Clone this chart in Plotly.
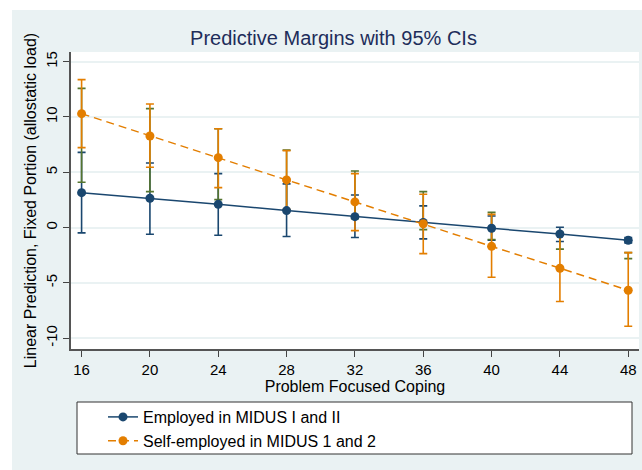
import plotly.graph_objects as go

# ---- data ----
coping = [16, 20, 24, 28, 32, 36, 40, 44, 48]
x_ticks = [16, 20, 24, 28, 32, 36, 40, 44, 48]
y_ticks = [-10, -5, 0, 5, 10, 15]

emp_margin = [3.16, 2.65, 2.10, 1.54, 0.99, 0.47, -0.06, -0.58, -1.14]
emp_lo = [-0.48, -0.60, -0.69, -0.81, -0.90, -1.02, -1.14, -1.26, -1.38]
emp_hi = [6.80, 5.84, 4.88, 3.95, 2.95, 1.96, 1.05, 0.03, -0.90]

self_margin = [10.30, 8.28, 6.32, 4.31, 2.32, 0.35, -1.69, -3.67, -5.66]
self_lo = [7.23, 5.45, 3.61, 1.66, -0.27, -2.35, -4.49, -6.68, -8.91]
self_hi = [13.37, 11.17, 8.94, 6.96, 4.88, 3.01, 1.20, -0.66, -2.26]

other_lo = [4.10, 3.25, 2.53, 1.60, 0.80, -0.18, -1.08, -1.94, -2.80]
other_hi = [12.58, 10.75, 8.94, 7.00, 5.12, 3.25, 1.38, -0.44, -2.26]

labels = ["Employed in MIDUS I and II", "Self-employed in MIDUS 1 and 2"]

NAVY = "#1A476F"
ORANGE = "#E37E00"
GREEN = "#55752F"
BG = "#EAF2F3"
FONT = "Liberation Sans, Arial, sans-serif"


def ci_trace(y_lo, y_hi, color):
    mid = [(a + b) / 2 for a, b in zip(y_lo, y_hi)]
    return go.Scatter(
        x=coping, y=mid, mode="markers",
        marker=dict(size=1, opacity=0, color=color),
        error_y=dict(type="data", symmetric=False,
                     array=[h - m for h, m in zip(y_hi, mid)],
                     arrayminus=[m - l for m, l in zip(mid, y_lo)],
                     color=color, thickness=1.6, width=4),
        showlegend=False, hoverinfo="skip")


fig = go.Figure()
fig.add_trace(ci_trace(emp_lo, emp_hi, NAVY))
fig.add_trace(ci_trace(other_lo, other_hi, GREEN))
fig.add_trace(ci_trace(self_lo, self_hi, ORANGE))

fig.add_trace(go.Scatter(
    x=coping, y=emp_margin, mode="lines+markers", name=labels[0],
    line=dict(color=NAVY, width=1.5),
    marker=dict(color=NAVY, size=9, line=dict(width=0)),
    legendgroup="a"))
fig.add_trace(go.Scatter(
    x=coping, y=self_margin, mode="lines+markers", name=labels[1],
    line=dict(color=ORANGE, width=1.5, dash="8px,5px"),
    marker=dict(color=ORANGE, size=9, line=dict(width=0)),
    legendgroup="b"))

W, H = 642, 470
L, R, T, B = 71, 3, 52, 121
PW, PH = W - L - R, H - T - B


def px_x(p):  # window pixel -> paper x
    return (p - L) / PW


def px_y(p):  # window pixel -> paper y
    return (H - B - p) / PH


shapes = [
    # white outer strips (left 12px, top 10px of the window)
    dict(type="rect", xref="paper", yref="paper", x0=px_x(0), x1=px_x(12),
         y0=px_y(H), y1=px_y(0), fillcolor="white", line=dict(width=0), layer="below"),
    dict(type="rect", xref="paper", yref="paper", x0=px_x(0), x1=px_x(W),
         y0=px_y(10), y1=px_y(0), fillcolor="white", line=dict(width=0), layer="below"),
    # legend box
    dict(type="rect", xref="paper", yref="paper", x0=px_x(77), x1=px_x(632),
         y0=px_y(454), y1=px_y(402), fillcolor="white",
         line=dict(color="#333333", width=1), layer="below"),
]

fig.update_layout(
    width=W, height=H,
    margin=dict(l=L, r=R, t=T, b=B, autoexpand=False),
    paper_bgcolor=BG, plot_bgcolor="white",
    font=dict(family=FONT, color="black", size=15),
    title=dict(text="Predictive Margins with 95% CIs", x=333.5 / W, xanchor="center",
               y=1 - 38 / H, yanchor="middle",
               font=dict(size=20, color="#1E2D5A", family=FONT)),
    xaxis=dict(range=[15.38, 48.63], tickvals=x_ticks, ticks="outside", ticklen=6,
               tickwidth=1.2, tickcolor="#444444", showline=True, linecolor="#555555",
               linewidth=1.5, showgrid=False, zeroline=False,
               tickfont=dict(size=15),
               title=dict(text="Problem Focused Coping", font=dict(size=16), standoff=0)),
    yaxis=dict(range=[-10.97, 15.87], tickvals=y_ticks, ticktext=[str(v) for v in y_ticks],
               ticks="outside", ticklen=6, tickwidth=1.2, tickcolor="#444444",
               showline=True, linecolor="#555555", linewidth=1.5,
               showgrid=True, gridcolor=BG, gridwidth=1.5, zeroline=False,
               tickangle=-90, tickfont=dict(size=15),
               title=dict(text="Linear Prediction, Fixed Portion (allostatic load)",
                          font=dict(size=16), standoff=3)),
    legend=dict(x=px_x(103), xanchor="left", y=px_y(400), yanchor="top",
                bgcolor="rgba(0,0,0,0)", borderwidth=0, tracegroupgap=0,
                font=dict(size=16, family=FONT)),
    shapes=shapes,
    showlegend=True,
)

# remove the default 8px page margin so the 642x470 figure fills the window exactly
fig.write_html("out.html",
               config={"displayModeBar": False},
               post_script="document.body.style.margin='0px';"
                           "document.body.style.overflow='hidden';")
